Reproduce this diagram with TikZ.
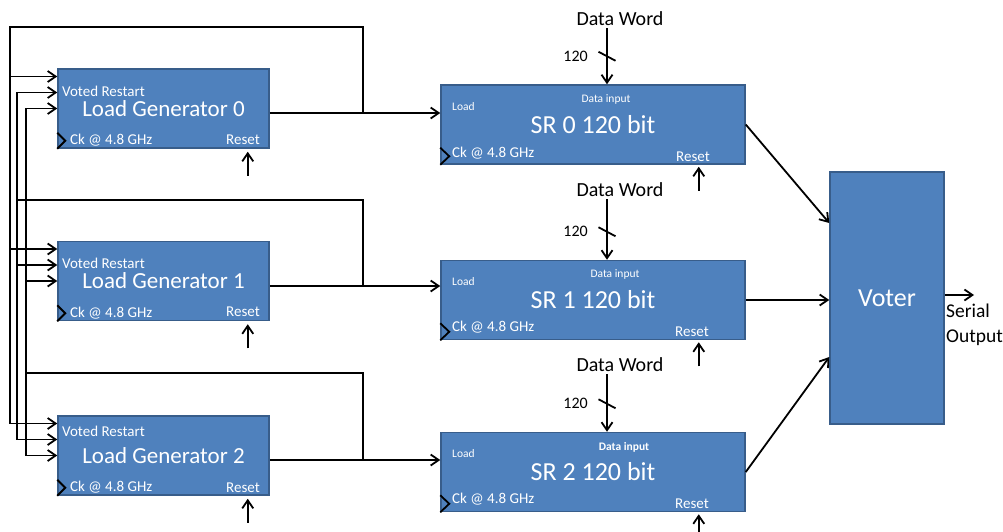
\documentclass[tikz,border=0pt]{standalone}
\usepackage{fontspec}
\setmainfont{Carlito}
\usetikzlibrary{positioning, arrows.meta}
\definecolor{BoxBlue}{HTML}{4F81BD}
\definecolor{BoxEdge}{HTML}{385D8A}

\begin{document}
\begin{tikzpicture}[
            x=1pt, y=-1pt,
            block/.style={draw=BoxEdge, line width=1.5pt, fill=BoxBlue, text=white, inner sep=0pt},
            lgen/.style={block, minimum width=211pt, minimum height=79pt, font=\fontsize{23}{27}\selectfont},
            sreg/.style={block, minimum width=304pt, minimum height=79pt, font=\fontsize{26}{30}\selectfont},
            pin/.style={text=white, inner sep=0pt, font=\fontsize{15}{17}\selectfont},
            smallpin/.style={text=white, inner sep=0pt, font=\fontsize{11.5}{13}\selectfont},
            word/.style={inner sep=2pt, font=\fontsize{20}{23}\selectfont},
            num/.style={inner sep=0pt, font=\fontsize{16}{18}\selectfont},
            wire/.style={line width=1.8pt},
            arrow/.style={wire, -{Straight Barb[length=8pt, width=11pt]}},
            clk/.style={line width=1.8pt}
        ]
            \useasboundingbox (0,0) rectangle (1003,531);

            \node[lgen] (lg0) at (163.5,108.5) {Load Generator 0};
            \node[lgen] (lg1) at (163.5,281) {Load Generator 1};
            \node[lgen] (lg2) at (163.5,455.5) {Load Generator 2};
            \node[sreg] (sr0) at (593,124.5) {SR 0 120 bit};
            \node[sreg] (sr1) at (593,300) {SR 1 120 bit};
            \node[sreg] (sr2) at (593,472) {SR 2 120 bit};
            \node[block, minimum width=114pt, minimum height=252pt, font=\fontsize{26}{30}\selectfont] (voter) at (887,298) {Voter};

            \node[pin, anchor=west] (lg0vr) at (62,91) {Voted Restart};
            \node[pin, anchor=west] (lg0ck) at (70,140) {Ck @ 4.8 GHz};
            \node[pin, anchor=east] (lg0rst) at (260,140) {Reset};
            \node[pin, anchor=west] (lg1vr) at (62,263) {Voted Restart};
            \node[pin, anchor=west] (lg1ck) at (70,313) {Ck @ 4.8 GHz};
            \node[pin, anchor=east] (lg1rst) at (260,312) {Reset};
            \node[pin, anchor=west] (lg2vr) at (62,431.5) {Voted Restart};
            \node[pin, anchor=west] (lg2ck) at (70,487) {Ck @ 4.8 GHz};
            \node[pin, anchor=east] (lg2rst) at (260,488) {Reset};

            \node[smallpin, anchor=west] (sr0load) at (452,107) {Load};
            \node[smallpin] (sr0din) at (606,99) {Data input};
            \node[pin, anchor=west] (sr0ck) at (452,153) {Ck @ 4.8 GHz};
            \node[pin] (sr0rst) at (693,157) {Reset};
            \node[smallpin, anchor=west] (sr1load) at (452,282) {Load};
            \node[smallpin] (sr1din) at (615,274) {Data input};
            \node[pin, anchor=west] (sr1ck) at (452,327) {Ck @ 4.8 GHz};
            \node[pin] (sr1rst) at (692,332) {Reset};
            \node[smallpin, anchor=west] (sr2load) at (452,454) {Load};
            \node[smallpin, font=\fontsize{11.5}{13}\selectfont\bfseries] (sr2din) at (624,447) {Data input};
            \node[pin, anchor=west] (sr2ck) at (452,499) {Ck @ 4.8 GHz};
            \node[pin] (sr2rst) at (692,504) {Reset};

            \node[word] (dw0) at (620,19) {Data Word};
            \node[word] (dw1) at (620,190) {Data Word};
            \node[word] (dw2) at (620,365) {Data Word};
            \coordinate (bus0) at ([xshift=14pt, yshift=28pt]sr0.north);
            \coordinate (bus1) at ([xshift=14pt, yshift=28pt]sr1.north);
            \coordinate (bus2) at ([xshift=14pt, yshift=28pt]sr2.north);
            \node[num, left=19pt of bus0] (w0) {120};
            \node[num, left=19pt of bus1] (w1) {120};
            \node[num, left=19pt of bus2] (w2) {120};

            \draw[arrow] ([xshift=14pt]sr0.north |- dw0.south) -- ([xshift=14pt]sr0.north);
            \draw[arrow] ([xshift=14pt]sr1.north |- dw1.south) -- ([xshift=14pt]sr1.north);
            \draw[arrow] ([xshift=14pt]sr2.north |- dw2.south) -- ([xshift=14pt]sr2.north);
            \draw[wire] ([xshift=-8.5pt, yshift=4.5pt]bus0) -- ([xshift=8.5pt, yshift=-4.5pt]bus0);
            \draw[wire] ([xshift=-8.5pt, yshift=4.5pt]bus1) -- ([xshift=8.5pt, yshift=-4.5pt]bus1);
            \draw[wire] ([xshift=-8.5pt, yshift=4.5pt]bus2) -- ([xshift=8.5pt, yshift=-4.5pt]bus2);

            \coordinate (fb0) at (363,113);
            \coordinate (fb1) at (363,286);
            \coordinate (fb2) at (363,460);
            \coordinate (rail0) at (10,27);
            \coordinate (rail1) at (17,200);
            \coordinate (rail2) at (26,373);

            \draw[arrow] (lg0.east |- fb0) -- (sr0.west |- fb0);
            \draw[arrow] (lg1.east |- fb1) -- (sr1.west |- fb1);
            \draw[arrow] (lg2.east |- fb2) -- (sr2.west |- fb2);

            \draw[arrow] (fb0) |- (rail0) |- ([yshift=32pt]lg2.west);
            \draw[arrow] ([yshift=32pt]lg0.west -| rail0) -- ([yshift=32pt]lg0.west);
            \draw[arrow] ([yshift=32pt]lg1.west -| rail0) -- ([yshift=32pt]lg1.west);

            \draw[wire] (fb1) |- (rail1);
            \draw[arrow] (rail1) |- ([yshift=16pt]lg0.west);
            \draw[arrow] (rail1) |- ([yshift=16pt]lg2.west);
            \draw[arrow] ([yshift=16pt]lg1.west -| rail1) -- ([yshift=16pt]lg1.west);

            \draw[wire] (fb2) |- (rail2);
            \draw[arrow] (rail2) |- (lg0.west);
            \draw[arrow] (rail2) |- (lg2.west);
            \draw[arrow] (lg1.west -| rail2) -- (lg1.west);

            \draw[arrow] ([xshift=-22pt, yshift=-27pt]lg0.south east) -- ([xshift=-22pt, yshift=-3pt]lg0.south east);
            \draw[arrow] ([xshift=-22pt, yshift=-27pt]lg1.south east) -- ([xshift=-22pt, yshift=-3pt]lg1.south east);
            \draw[arrow] ([xshift=-22pt, yshift=-27pt]lg2.south east) -- ([xshift=-22pt, yshift=-3pt]lg2.south east);
            \draw[arrow] ([xshift=-47pt, yshift=-26pt]sr0.south east) -- ([xshift=-47pt, yshift=-2pt]sr0.south east);
            \draw[arrow] ([xshift=-47pt, yshift=-26pt]sr1.south east) -- ([xshift=-47pt, yshift=-2pt]sr1.south east);
            \draw[arrow] ([xshift=-47pt, yshift=-26pt]sr2.south east) -- ([xshift=-47pt, yshift=-2pt]sr2.south east);

            \draw[clk] ([yshift=16pt]lg0.south west) -- ++(8,8) -- ++(-8,8);
            \draw[clk] ([yshift=16pt]lg1.south west) -- ++(8,8) -- ++(-8,8);
            \draw[clk] ([yshift=16pt]lg2.south west) -- ++(8,8) -- ++(-8,8);
            \draw[clk] ([yshift=17pt]sr0.south west) -- ++(9,8.5) -- ++(-9,8.5);
            \draw[clk] ([yshift=17pt]sr1.south west) -- ++(9,8.5) -- ++(-9,8.5);
            \draw[clk] ([yshift=17pt]sr2.south west) -- ++(9,8.5) -- ++(-9,8.5);

            \draw[arrow] (sr0.east) -- ([yshift=75pt]voter.west);
            \draw[arrow] (sr1.east) -- (sr1.east -| voter.west);
            \draw[arrow] (sr2.east) -- ([yshift=-59pt]voter.west);

            \coordinate (sout) at (974,295);
            \draw[arrow] (voter.east |- sout) -- (sout);
            \node[anchor=north west, align=left, inner sep=0pt, font=\fontsize{19.5}{25}\selectfont] (serial) at (946,304) {Serial\\Output};
        \end{tikzpicture}
\end{document}
